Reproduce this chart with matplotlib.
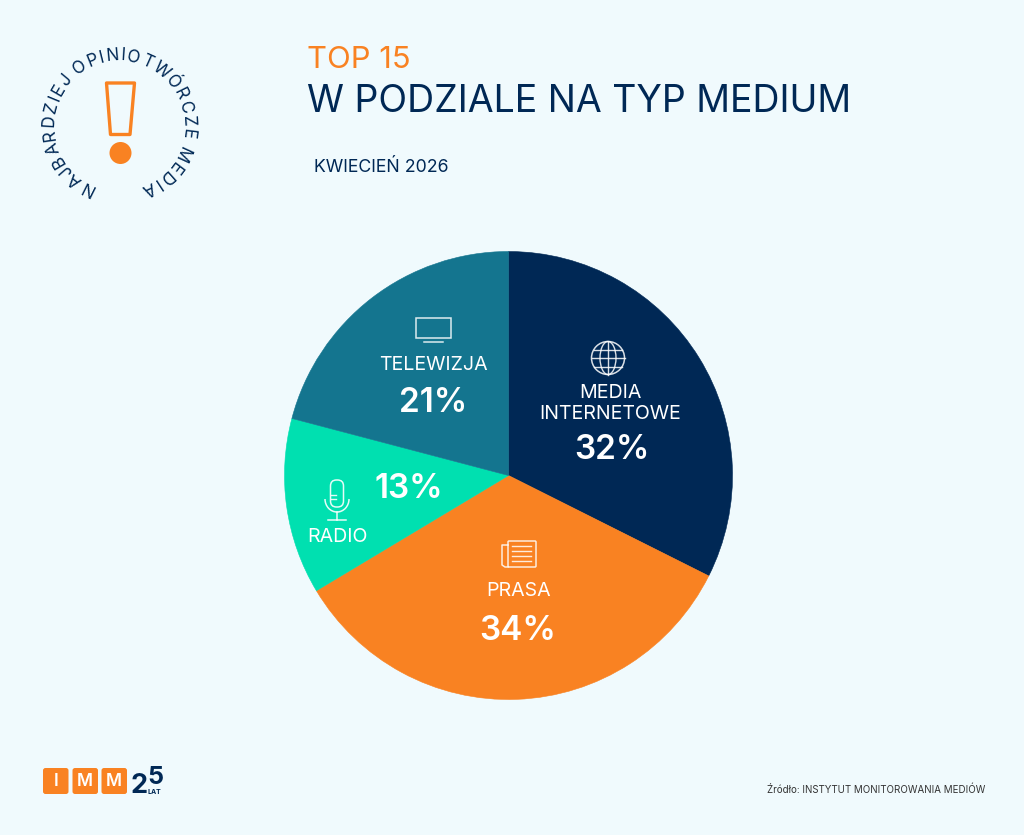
import numpy as np
import matplotlib
matplotlib.use('Agg')
from matplotlib import pyplot as plt
from matplotlib.patches import Circle, Ellipse, Arc, FancyBboxPatch, Polygon, Rectangle
from matplotlib.textpath import TextPath
from matplotlib.font_manager import FontProperties

FONT = 'Inter'
NAVY = '#002855'
ORANGE = '#F98222'
TEAL = '#14758F'
GREEN = '#00E0B0'
BG = '#F0FAFD'

categories = ['MEDIA\nINTERNETOWE', 'PRASA', 'RADIO', 'TELEWIZJA']
values = [32, 34, 13, 21]
# katy wycinkow (nieco inne niz podpisy)
shares = [32.4, 34.0, 12.7, 20.9]
colors = [NAVY, ORANGE, GREEN, TEAL]

# piksele z obrazka: (x, y) opisu i procentu
label_pos = [(610, 403.5), (518.5, 591), (337, 537), (433, 365)]
pct_pos = [(612, 450), (518, 630.5), (409, 489.5), (433, 403.5)]

title_top = 'TOP 15'
title_main = 'W PODZIALE NA TYP MEDIUM'
subtitle = 'KWIECIEŃ 2026'
source = 'Źródło: INSTYTUT MONITOROWANIA MEDIÓW'
ring_text = 'NAJBARDZIEJ OPINIOTWÓRCZE MEDIA'

fig = plt.figure(figsize=(10.24, 8.35), dpi=100, facecolor=BG)
ax = fig.add_axes([0, 0, 1, 1])


def Y(y):
    # y liczone od gory obrazka
    return 835 - y


wedges, _ = ax.pie(shares, colors=colors, startangle=90, counterclock=False,
                   center=(508.5, Y(475.5)), radius=224, wedgeprops={'linewidth': 0.4})
for w in wedges:
    w.set_edgecolor(w.get_facecolor())
ax.set_xlim(0, 1024)
ax.set_ylim(0, 835)
ax.set_aspect('equal')
ax.axis('off')

# tytuly
ax.text(307, Y(60), title_top, color=ORANGE, fontsize=22.3, family=FONT, va='center')
ax.text(307, Y(102.5), title_main, color=NAVY, fontsize=27, family=FONT, va='center')
ax.text(314, Y(168), subtitle, color=NAVY, fontsize=12.8, family=FONT, va='center')
ax.text(985, Y(789.5), source, color='#333333', fontsize=7.0, family=FONT, va='center', ha='right')

# opisy na wycinkach
for cat, val, lp, pp in zip(categories, values, label_pos, pct_pos):
    ax.text(lp[0], Y(lp[1]), cat, color='white', fontsize=14.1, family=FONT,
            ha='center', va='center', linespacing=1.22)
    ax.text(pp[0], Y(pp[1]), str(val) + '%', color='white', fontsize=24, family=FONT,
            weight='semibold', ha='center', va='center')

# ikona TV
ax.add_patch(Rectangle((416, Y(338)), 35, 20, fill=False, ec='white', lw=1.1, alpha=0.85))
ax.plot([424, 443], [Y(341.5), Y(341.5)], color='white', lw=1.1, alpha=0.85)

# ikona globusa
gx, gy = 608, Y(358)
ax.add_patch(Circle((gx, gy), 16.5, fill=False, ec='white', lw=1.1, alpha=0.85))
ax.add_patch(Ellipse((gx, gy), 16, 33, fill=False, ec='white', lw=1.0, alpha=0.85))
ax.plot([gx, gx], [gy - 16.5, gy + 16.5], color='white', lw=1.0, alpha=0.85)
ax.plot([gx - 16.5, gx + 16.5], [gy, gy], color='white', lw=1.0, alpha=0.85)
for dy in [-8.5, 8.5]:
    hw = np.sqrt(16.5 ** 2 - dy ** 2)
    ax.plot([gx - hw, gx + hw], [gy + dy, gy + dy], color='white', lw=1.0, alpha=0.85)

# ikona mikrofonu
ax.add_patch(FancyBboxPatch((330.5, Y(507)), 13, 27, boxstyle='round,pad=0,rounding_size=6',
                            fill=False, ec='white', lw=1.1, alpha=0.9))
ax.add_patch(Arc((337, Y(499)), 24, 26, theta1=180, theta2=360, ec='white', lw=1.1, alpha=0.9))
ax.plot([337, 337], [Y(512), Y(520)], color='white', lw=1.1, alpha=0.9)
ax.plot([328, 346], [Y(520), Y(520)], color='white', lw=1.1, alpha=0.9)
ax.plot([330.5, 336], [Y(495), Y(495)], color='white', lw=1.0, alpha=0.9)
ax.plot([330.5, 336], [Y(499), Y(499)], color='white', lw=1.0, alpha=0.9)

# ikona gazety
ax.add_patch(FancyBboxPatch((508, Y(567)), 28, 26, boxstyle='round,pad=0,rounding_size=1',
                            fill=False, ec='white', lw=1.1, alpha=0.85))
ax.plot([508, 502, 502, 505, 508], [Y(545), Y(545), Y(565), Y(567), Y(567)], color='white', lw=1.1, alpha=0.85)
for ly in [546, 551, 556, 560.5]:
    ax.plot([512, 531], [Y(ly), Y(ly)], color='white', lw=1.0, alpha=0.85)

# wykrzyknik
ax.add_patch(Polygon([(106.5, Y(83)), (134.5, Y(83)), (130, Y(134.5)), (110.5, Y(134.5))],
                     closed=True, fill=False, ec=ORANGE, lw=2.4, joinstyle='round'))
ax.add_patch(Circle((120.5, Y(153)), 11, fc=ORANGE, ec='none'))

# napis po okregu
ring_x, ring_y, ring_r = 118.5, Y(125), 69
fp = FontProperties(family=FONT, size=12.3)
hh = TextPath((0, 0), 'HH', prop=fp).get_extents().width
widths = []
for ch in ring_text:
    # szerokosc litery razem z odstepami po bokach
    w = TextPath((0, 0), 'H' + ch + 'H', prop=fp).get_extents().width - hh
    widths.append(w * 100 / 72 + 1.0)
widths = np.array(widths)
# polozenie liter wzdluz luku, od N do A zgodnie z ruchem wskazowek
offsets = np.cumsum(widths) - widths / 2
offsets = (offsets - offsets[0]) / (offsets[-1] - offsets[0])
angle_start, angle_end = 243.5, -65.0
angles = angle_start + (angle_end - angle_start) * offsets
for ch, a in zip(ring_text, angles):
    rad = np.radians(a)
    ax.text(ring_x + ring_r * np.cos(rad), ring_y + ring_r * np.sin(rad), ch, color=NAVY,
            fontproperties=fp, rotation=a - 90, rotation_mode='anchor', ha='center', va='center')

# logo IMM
for x0, letter in zip([43, 72.5, 101.5], 'IMM'):
    ax.add_patch(FancyBboxPatch((x0, Y(794)), 25.5, 26, boxstyle='round,pad=0,rounding_size=2.5',
                                fc=ORANGE, ec='none'))
    ax.text(x0 + 12.7, Y(781.5), letter, color='white', fontsize=12.5, family=FONT, weight='semibold',
            ha='center', va='center')
ax.text(130, Y(786), '2', color=NAVY, fontsize=19.5, family=FONT, weight='bold', va='center')
ax.text(147, Y(778), '5', color=NAVY, fontsize=18, family=FONT, weight='bold', va='center')
ax.text(147.5, Y(792), 'LAT', color=NAVY, fontsize=5, family=FONT, weight='bold', va='center')

fig.savefig('out.png', dpi=100, facecolor=BG)
